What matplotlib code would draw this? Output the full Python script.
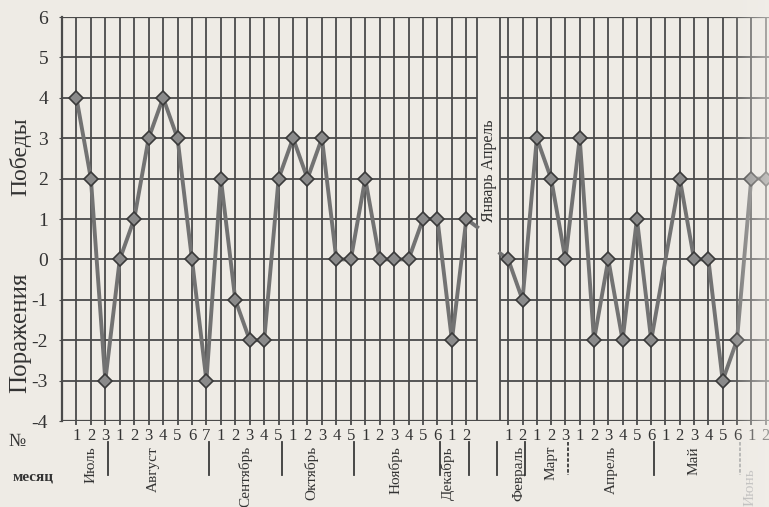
import numpy as np
import matplotlib.pyplot as plt

# первый отрезок сезона: июль - декабрь
months_a = ['Июль', 'Август', 'Сентябрь', 'Октябрь', 'Ноябрь', 'Декабрь']
weeks_a = [3, 7, 5, 5, 6, 2]
score_a = [4, 2, -3, 0, 1, 3, 4, 3, 0, -3,
           2, -1, -2, -2, 2, 3, 2, 3, 0, 0,
           2, 0, 0, 0, 1, 1, -2, 1]
# второй отрезок: февраль - июнь
months_b = ['Февраль', 'Март', 'Апрель', 'Май', 'Июнь']
weeks_b = [2, 3, 6, 6, 2]
score_b = [0, -1, 3, 2, 0, 3, -2, 0, -2, 1,
           -2, 0, 2, 0, 0, -3, -2, 2, 2]
no_marker_b = [11]          # точка без ромба (май, 1)
gap_out = 0.8               # линия уходит в разрыв
gap_in = 0.15               # линия выходит из разрыва
gap_text = 'Январь Апрель'
yvals = list(range(-4, 7))

# сдвиг подписей месяцев (в шагах сетки)
shift_a = [0, -0.7, -0.3, -0.7, -0.4, -0.75]
shift_b = [0.25, 0, -0.3, -0.5, -0.55]

paper = '#eeebe5'
ink = '#4a4a4a'
txt = '#333333'
plt.rcParams['font.family'] = ['Liberation Serif', 'DejaVu Sans']

fig = plt.figure(figsize=(7.69, 5.07), dpi=100, facecolor=paper)
W, H = 769, 507
ax = fig.add_axes([62 / W, (H - 421) / H, (W - 62) / W, 404 / H])
ax.set_facecolor(paper)

xa = np.arange(len(score_a)).astype(float)
gap_l, gap_r = 27.75, 29.34
xb = 29.9 + 0.99 * np.arange(len(score_b))
xmax = (W - 76) / 14.45
ax.set_xlim(-1, xmax)
ax.set_ylim(-4, 6)

# сетка
glw = 1.3
ax.vlines(xa, -4, 6, color=ink, lw=glw, zorder=1)
ax.vlines(xb, -4, 6, color=ink, lw=glw, zorder=1)
ax.vlines([gap_l, gap_r], -4, 6, color=ink, lw=glw, zorder=1)
ax.hlines(yvals[1:-1], -1, gap_l, color=ink, lw=glw, zorder=1)
ax.hlines(yvals[1:-1], gap_r, xmax, color=ink, lw=glw, zorder=1)
ax.hlines([yvals[0], yvals[-1]], -1, xmax, color=ink, lw=glw + 0.3, zorder=1)
for s in ['right', 'top', 'bottom']:
    ax.spines[s].set_visible(False)
ax.spines['left'].set_color(ink)
ax.spines['left'].set_linewidth(glw + 0.3)

# линии результатов
lc, mc, me = '#727272', '#8a8a8a', '#3a3a3a'
ax.plot(np.r_[xa, gap_l], np.r_[score_a, gap_out], color=lc, lw=2.8, zorder=3)
ax.plot(np.r_[gap_r, xb], np.r_[gap_in, score_b], color=lc, lw=2.8, zorder=3)
ax.plot(xa, score_a, 'D', ms=7.5, mfc=mc, mec=me, mew=1.2, zorder=4)
keep = [i for i in range(len(score_b)) if i not in no_marker_b]
ax.plot(xb[keep], np.array(score_b)[keep], 'D', ms=7.5, mfc=mc, mec=me, mew=1.2, zorder=4)

ax.text((gap_l + gap_r) / 2, 2.2, gap_text, rotation=90, ha='center', va='center',
        fontsize=11.5, color='#2e2e2e')

# оси и подписи
ax.set_yticks(yvals)
ax.set_yticklabels([str(v) for v in yvals])
ax.tick_params(axis='y', length=2, pad=8, labelsize=14, colors=ink, labelcolor=txt)
nums = [str(k) for n in weeks_a + weeks_b for k in range(1, n + 1)]
ax.set_xticks(np.r_[xa, xb])
ax.set_xticklabels(nums)
ax.tick_params(axis='x', length=3, width=glw, pad=2, labelsize=12, colors=ink,
               labelcolor=txt)

tr = ax.get_xaxis_transform()
def yfrac(py):
    return (421 - py) / 404

def month_rows(months, weeks, xs, shifts, dashed):
    start = 0
    for m, n, sh in zip(months, weeks, shifts):
        idx = np.arange(start, start + n)
        xm = xs[idx].mean() + sh
        col = '#b4b4b4' if m == 'Июнь' else txt
        ytop = 468 if m == 'Июнь' else 446
        ax.text(xm, yfrac(ytop), m, rotation=90, ha='center', va='top', fontsize=11,
                transform=tr, color=col, clip_on=False)
        if start + n < len(xs) or m == 'Декабрь':
            xs_ = xs[start + n - 1] + 0.2
            ls = (0, (2, 1)) if m in dashed else '-'
            c = '#aaaaaa' if m == 'Май' else '#3a3a3a'
            ax.plot([xs_, xs_], [yfrac(442), yfrac(475)], transform=tr, color=c,
                    lw=1.3, ls=ls, clip_on=False)
        start += n

month_rows(months_a, weeks_a, xa, shift_a, [])
month_rows(months_b, weeks_b, xb, shift_b, ['Март', 'Май'])
ax.plot([gap_r - 0.2] * 2, [yfrac(442), yfrac(475)], transform=tr, color='#3a3a3a',
        lw=1.3, clip_on=False)

fig.text(20 / W, 1 - 157 / H, 'Победы', rotation=90, ha='center', va='center',
         fontsize=17, color=txt)
fig.text(20 / W, 1 - 333 / H, 'Поражения', rotation=90, ha='center', va='center',
         fontsize=18, color=txt)
fig.text(17 / W, 1 - 441 / H, '№', ha='center', va='center', fontsize=13, color=txt)
fig.text(33 / W, 1 - 477 / H, 'месяц', ha='center', va='center', fontsize=11,
         color=txt, fontweight='bold')

# выцветший правый край скана
fade = fig.add_axes([728 / W, 0, 41 / W, 1], zorder=10)
grad = np.linspace(0, 0.55, 64)[None, :]
rgba = np.zeros((1, 64, 4))
rgba[..., :3] = [0.95, 0.94, 0.92]
rgba[..., 3] = grad
fade.imshow(rgba, aspect='auto', extent=[0, 1, 0, 1])
fade.axis('off')

fig.savefig('out.png', dpi=100, facecolor=paper)
